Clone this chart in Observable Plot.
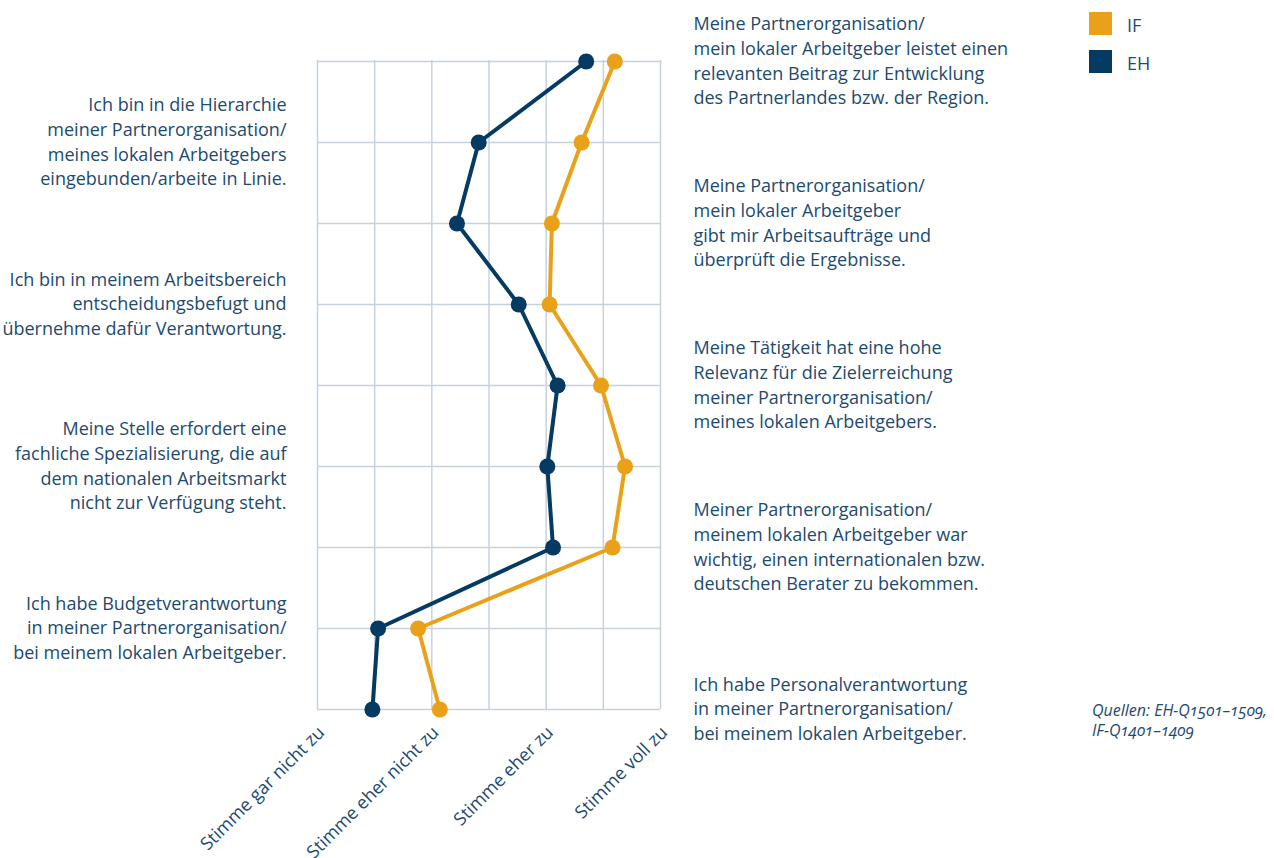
<!DOCTYPE html>
<html>
<head>
<meta charset="utf-8">
<script src="https://cdn.jsdelivr.net/npm/d3@7"></script>
<script src="https://cdn.jsdelivr.net/npm/@observablehq/plot@0.6"></script>
<style>
  html, body { margin: 0; padding: 0; background: #fff; }
  body { width: 1274px; height: 858px; position: relative; overflow: hidden; font-family: "Open Sans", sans-serif; color: #1d4a70; }
  #chart { position: absolute; left: 0; top: 0; }
  .legend { position: absolute; left: 1089px; font-size: 18px; }
  .legend .item { position: absolute; left: 0; display: flex; align-items: center; white-space: nowrap; }
  .legend .sw { width: 23px; height: 23px; margin-right: 15px; }
  .legend .lab { position: relative; top: 2px; }
  .source { position: absolute; left: 1092px; top: 700px; font-size: 16px; font-style: italic; line-height: 20px; font-variant-numeric: oldstyle-nums; }
</style>
</head>
<body>
<div id="chart"></div>
<div class="legend" id="legend"></div>
<div class="source">Quellen: EH-Q1501–1509,<br>IF-Q1401–1409</div>
<script>
// Statements (top to bottom)
const items = [
  "Meine Partnerorganisation/\nmein lokaler Arbeitgeber leistet einen\nrelevanten Beitrag zur Entwicklung\ndes Partnerlandes bzw. der Region.",
  "Ich bin in die Hierarchie\nmeiner Partnerorganisation/\nmeines lokalen Arbeitgebers\neingebunden/arbeite in Linie.",
  "Meine Partnerorganisation/\nmein lokaler Arbeitgeber\ngibt mir Arbeitsaufträge und\nüberprüft die Ergebnisse.",
  "Ich bin in meinem Arbeitsbereich\nentscheidungsbefugt und\nübernehme dafür Verantwortung.",
  "Meine Tätigkeit hat eine hohe\nRelevanz für die Zielerreichung\nmeiner Partnerorganisation/\nmeines lokalen Arbeitgebers.",
  "Meine Stelle erfordert eine\nfachliche Spezialisierung, die auf\ndem nationalen Arbeitsmarkt\nnicht zur Verfügung steht.",
  "Meiner Partnerorganisation/\nmeinem lokalen Arbeitgeber war\nwichtig, einen internationalen bzw.\ndeutschen Berater zu bekommen.",
  "Ich habe Budgetverantwortung\nin meiner Partnerorganisation/\nbei meinem lokalen Arbeitgeber.",
  "Ich habe Personalverantwortung\nin meiner Partnerorganisation/\nbei meinem lokalen Arbeitgeber."
];
const ehValues = [3.35, 2.41, 2.22, 2.76, 3.10, 3.01, 3.06, 1.53, 1.48];
const ifValues = [3.60, 3.31, 3.05, 3.03, 3.48, 3.69, 3.58, 1.88, 2.07];
const seriesNames = ["IF", "EH"];
const seriesColors = ["#e9a11a", "#053a63"];
const xTickValues = [1, 2, 3, 4];
const xTickLabels = ["Stimme gar nicht zu", "Stimme eher nicht zu", "Stimme eher zu", "Stimme voll zu"];
const gridValues = [1, 1.5, 2, 2.5, 3, 3.5, 4];

const textColor = "#1d4a70";
const gridColor = "#c7d2de";

const rows = [];
items.forEach((it, i) => {
  rows.push({item: it, value: ifValues[i], series: "IF"});
});
items.forEach((it, i) => {
  rows.push({item: it, value: ehValues[i], series: "EH"});
});
const leftItems = items.filter((d, i) => i % 2 === 1);
const rightItems = items.filter((d, i) => i % 2 === 0);

const plot = Plot.plot({
  width: 1274,
  height: 858,
  marginLeft: 317,
  marginRight: 614,
  marginTop: 60,
  marginBottom: 149,
  style: {fontFamily: "'Open Sans', sans-serif", background: "#fff"},
  x: {domain: [1, 4]},
  y: {type: "point", domain: items, padding: 0, axis: null},
  color: {domain: seriesNames, range: seriesColors},
  marks: [
    Plot.ruleX(gridValues, {x: d => d, stroke: gridColor, strokeWidth: 1.5}),
    Plot.ruleY(items, {y: d => d, stroke: gridColor, strokeWidth: 1.5}),
    Plot.axisX({ticks: xTickValues, tickFormat: (d) => xTickLabels[xTickValues.indexOf(d)], tickSize: 0, tickRotate: -45, tickPadding: 20, dx: 4, fontSize: 18, fill: textColor, label: null}),
    Plot.line(rows, {x: "value", y: "item", z: "series", stroke: "series", strokeWidth: 4, strokeLinejoin: "round"}),
    Plot.dot(rows, {x: "value", y: "item", fill: "series", r: 8}),
    Plot.text(leftItems, {y: d => d, text: d => d, frameAnchor: "left", textAnchor: "end", dx: -31, dy: -2, fontSize: 18, lineHeight: 1.37, fill: textColor}),
    Plot.text(rightItems, {y: d => d, text: d => d, frameAnchor: "right", textAnchor: "start", dx: 33, dy: -2, fontSize: 18, lineHeight: 1.37, fill: textColor})
  ]
});
document.getElementById("chart").appendChild(plot);

const legend = document.getElementById("legend");
const legendTops = [11, 49];
seriesNames.forEach((name, i) => {
  const div = document.createElement("div");
  div.className = "item";
  div.style.top = legendTops[i] + "px";
  div.innerHTML = `<span class="sw" style="background:${seriesColors[i]}"></span><span class="lab">${name}</span>`;
  legend.appendChild(div);
});
</script>
</body>
</html>
